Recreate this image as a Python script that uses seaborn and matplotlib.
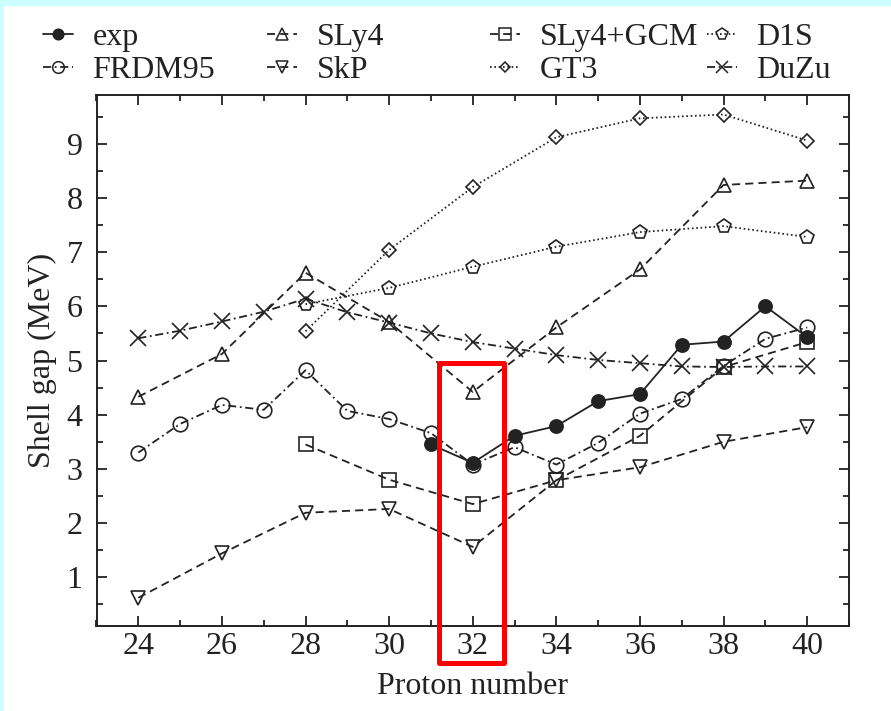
import matplotlib
matplotlib.use("Agg")
import matplotlib.pyplot as plt
from matplotlib.lines import Line2D
from matplotlib.patches import Rectangle
from matplotlib.ticker import MultipleLocator
import pandas as pd
import seaborn as sns

# ---- data: shell gaps (MeV) versus proton number ----
exp_z = [31, 32, 33, 34, 35, 36, 37, 38, 39, 40]
exp_gap = [3.45, 3.11, 3.61, 3.79, 4.25, 4.38, 5.29, 5.35, 6.00, 5.43]

frdm_z = [24, 25, 26, 27, 28, 29, 30, 31, 32, 33, 34, 35, 36, 37, 38, 39, 40]
frdm_gap = [3.30, 3.83, 4.18, 4.09, 4.82, 4.07, 3.92, 3.66, 3.08, 3.40,
            3.08, 3.48, 4.02, 4.29, 4.90, 5.40, 5.61]

sly4_z = [24, 26, 28, 30, 32, 34, 36, 38, 40]
sly4_gap = [4.33, 5.12, 6.62, 5.71, 4.42, 5.61, 6.68, 8.24, 8.32]

skp_z = [24, 26, 28, 30, 32, 34, 36, 38, 40]
skp_gap = [0.62, 1.44, 2.19, 2.26, 1.56, 2.79, 3.03, 3.50, 3.77]

gcm_z = [28, 30, 32, 34, 36, 38, 40]
gcm_gap = [3.45, 2.80, 2.35, 2.79, 3.61, 4.88, 5.34]

gt3_z = [28, 30, 32, 34, 36, 38, 40]
gt3_gap = [5.54, 7.04, 8.20, 9.12, 9.47, 9.54, 9.06]

d1s_z = [28, 30, 32, 34, 36, 38, 40]
d1s_gap = [6.04, 6.34, 6.73, 7.10, 7.37, 7.48, 7.28]

duzu_z = [24, 25, 26, 27, 28, 29, 30, 31, 32, 33, 34, 35, 36, 37, 38, 39, 40]
duzu_gap = [5.41, 5.55, 5.72, 5.90, 6.14, 5.89, 5.70, 5.50, 5.34, 5.22,
            5.10, 5.01, 4.95, 4.89, 4.88, 4.89, 4.89]

x_ticks = [24, 26, 28, 30, 32, 34, 36, 38, 40]
y_ticks = [1, 2, 3, 4, 5, 6, 7, 8, 9]

series = [
    ("exp", exp_z, exp_gap),
    ("FRDM95", frdm_z, frdm_gap),
    ("SLy4", sly4_z, sly4_gap),
    ("SkP", skp_z, skp_gap),
    ("SLy4+GCM", gcm_z, gcm_gap),
    ("GT3", gt3_z, gt3_gap),
    ("D1S", d1s_z, d1s_gap),
    ("DuZu", duzu_z, duzu_gap),
]
frames = [pd.DataFrame({"Z": z, "gap": g, "model": name}) for name, z, g in series]
df = pd.concat(frames, ignore_index=True)

# ---- styles ----
INK = "#222222"
LW = 1.3
dashed = (0, (4.5, 2.8))
dashdot = (0, (4.5, 2.0, 1.0, 2.0))
dotted = (0, (0.9, 1.5))

styles = {
    "exp":      dict(marker="o", ls="-",     ms=9.5, fill=True),
    "FRDM95":   dict(marker="o", ls=dashdot, ms=10.5, fill=False),
    "SLy4":     dict(marker="^", ls=dashed,  ms=10.5, fill=False),
    "SkP":      dict(marker="v", ls=dashed,  ms=10.5, fill=False),
    "SLy4+GCM": dict(marker="s", ls=dashed,  ms=10.0, fill=False),
    "GT3":      dict(marker="D", ls=dotted,  ms=6.8, fill=False),
    "D1S":      dict(marker="p", ls=dotted,  ms=10.5, fill=False),
    "DuZu":     dict(marker="x", ls=dashdot, ms=11.0, fill=False),
}

FS = 23

sns.set_theme(style="ticks")
plt.rcParams["font.family"] = ["Liberation Serif", "DejaVu Serif"]

fig = plt.figure(figsize=(8.91, 7.11), dpi=100, facecolor="white")
ax = fig.add_axes([96.5 / 891, 1 - 626 / 711, (849 - 96.5) / 891, (626 - 95) / 711])

for name, _, _ in series:
    st = styles[name]
    sub = df[df["model"] == name]
    sns.lineplot(
        data=sub, x="Z", y="gap", ax=ax, legend=False,
        color=INK, linestyle=st["ls"], linewidth=LW,
        marker=st["marker"], markersize=st["ms"],
        markerfacecolor=INK if st["fill"] else "none",
        markeredgecolor=INK, markeredgewidth=1.2,
        estimator=None, sort=False,
    )

ax.set_xlim(23, 41)
ax.set_ylim(0.1, 9.9)
ax.set_xticks(x_ticks)
ax.set_yticks(y_ticks)
ax.xaxis.set_minor_locator(MultipleLocator(1))
ax.yaxis.set_minor_locator(MultipleLocator(0.5))
ax.tick_params(which="both", direction="in", top=True, right=True,
               color=INK, width=1.3)
ax.tick_params(which="major", length=7.5, labelsize=FS, labelcolor=INK)
ax.tick_params(axis="x", which="major", pad=4)
ax.tick_params(axis="y", which="major", pad=10)
ax.tick_params(which="minor", length=4.3)
for sp in ax.spines.values():
    sp.set_visible(True)
    sp.set_color(INK)
    sp.set_linewidth(1.4)

ax.set_xlabel("Proton number", fontsize=FS, color=INK, labelpad=8)
ax.set_ylabel("Shell gap (MeV)", fontsize=FS, color=INK, labelpad=7)

# highlight box around Z = 32
box = Rectangle((31.2, -0.58), 1.54, 5.53, transform=ax.transData,
                fill=False, edgecolor="#ff0000", linewidth=3.6,
                joinstyle="round", clip_on=False, zorder=10)
ax.add_patch(box)

# legend, four columns of two entries
def handle(name):
    st = styles[name]
    return Line2D([], [], color=INK, linestyle=st["ls"], linewidth=LW,
                  marker=st["marker"], markersize=st["ms"] * 0.8,
                  markerfacecolor=INK if st["fill"] else "none",
                  markeredgecolor=INK, markeredgewidth=1.1)

names = [s[0] for s in series]
col_x = [43, 267, 490, 707]
for i, x0 in enumerate(col_x):
    pair = names[2 * i: 2 * i + 2]
    fig.legend([handle(n) for n in pair], pair, loc="upper left",
               bbox_to_anchor=(x0 / 891, 1 - 23 / 711),
               frameon=False, fontsize=FS, handlelength=0.95,
               handletextpad=0.6, labelspacing=0.1, borderpad=0,
               borderaxespad=0, labelcolor=INK)

# pale cyan strips along the top and left edges
fig.patches.append(Rectangle((0, 1 - 6 / 711), 1, 6 / 711,
                             transform=fig.transFigure, facecolor="#ccffff",
                             edgecolor="none", zorder=-1))
fig.patches.append(Rectangle((0, 0), 4 / 891, 1,
                             transform=fig.transFigure, facecolor="#ccffff",
                             edgecolor="none", zorder=-1))

fig.savefig("out.png", dpi=100, facecolor="white")
